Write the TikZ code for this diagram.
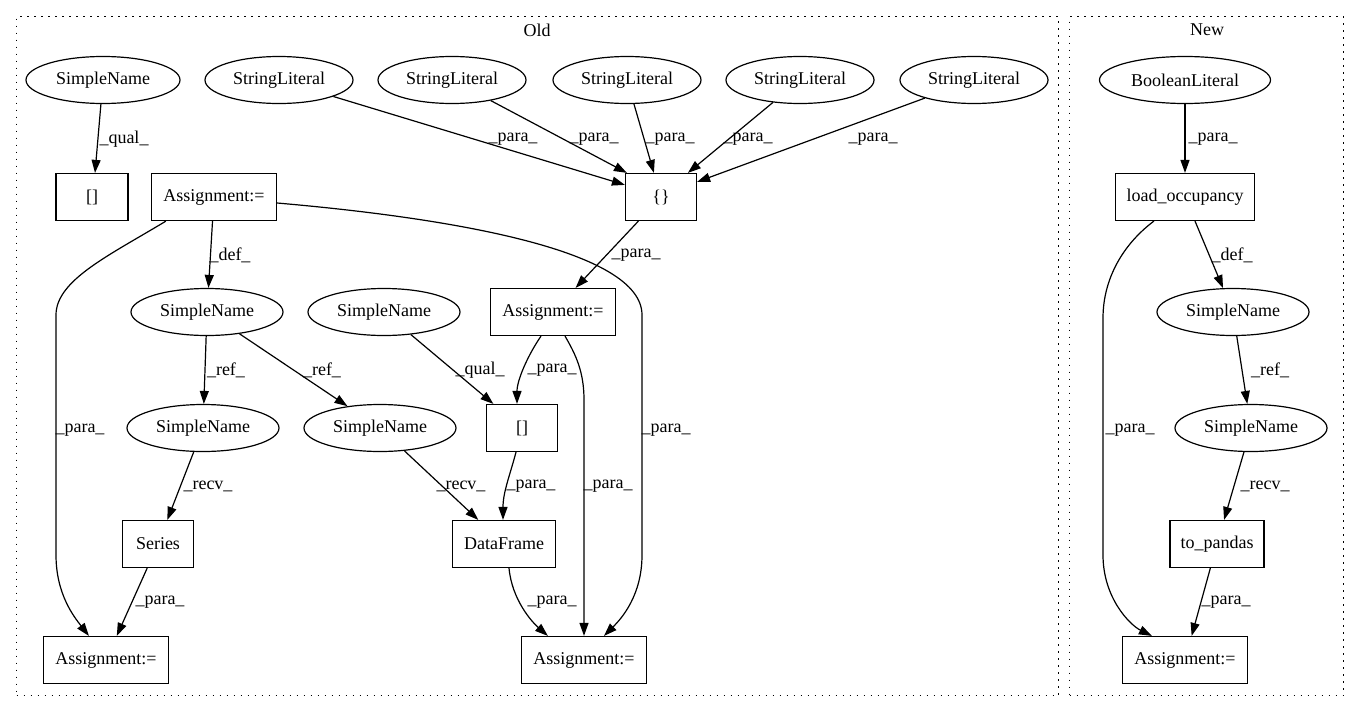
\documentclass[tikz,border=0pt]{standalone}
\usepackage{fontspec}
\setmainfont{Liberation Serif}
\usetikzlibrary{shapes.geometric,arrows.meta,calc}
\begin{document}
\begin{tikzpicture}[x=1pt,y=-1pt,
  every node/.style={font=\fontsize{18}{21}\selectfont},
  ell/.style={ellipse, draw, line width=1.2pt, minimum height=47pt, inner sep=0pt},
  box/.style={rectangle, draw, line width=1.2pt, minimum height=47pt, inner sep=0pt},
  edge/.style={draw, line width=1.2pt, -{Triangle[length=13pt,width=9pt]}},
  lbl/.style={inner sep=0pt},
  cluster/.style={draw, line width=1.2pt, dash pattern=on 1.5pt off 5.5pt, inner sep=0pt, anchor=north west}]
\useasboundingbox[fill=white] (0,0) rectangle (1359,712);
% clusters
\node[cluster, minimum width=1042pt, minimum height=679pt] (cold) at (16,16) {};
\node[cluster, minimum width=274pt, minimum height=679pt] (cnew) at (1069,16) {};
\node[lbl] (told) at (537,30) {Old};
\node[lbl] (tnew) at (1207,30) {New};
% Old nodes
\node[ell, minimum width=154pt] (sn0) at (103,80) {SimpleName};
\node[ell, minimum width=148pt] (sl1) at (279,80) {StringLiteral};
\node[ell, minimum width=148pt] (sl2) at (452,80) {StringLiteral};
\node[ell, minimum width=148pt] (sl3) at (627,80) {StringLiteral};
\node[ell, minimum width=148pt] (sl4) at (800,80) {StringLiteral};
\node[ell, minimum width=148pt] (sl5) at (974,80) {StringLiteral};
\node[box, minimum width=72pt] (bt) at (92,197) {[]};
\node[box, minimum width=125pt] (at) at (214,197) {Assignment:=};
\node[box, minimum width=71pt] (cb) at (661,197) {\{\}};
\node[ell, minimum width=152pt] (snd) at (207,312) {SimpleName};
\node[ell, minimum width=152pt] (snq) at (384,312) {SimpleName};
\node[box, minimum width=125pt] (am) at (553,312) {Assignment:=};
\node[ell, minimum width=152pt] (sr1) at (203,428) {SimpleName};
\node[ell, minimum width=152pt] (sr2) at (380,428) {SimpleName};
\node[box, minimum width=71pt] (bm) at (522,428) {[]};
\node[box, minimum width=71pt] (se) at (158,544) {Series};
\node[box, minimum width=103pt] (df) at (504,544) {DataFrame};
\node[box, minimum width=125pt] (abl) at (106,660) {Assignment:=};
\node[box, minimum width=125pt] (abr) at (584,660) {Assignment:=};
% New nodes
\node[ell, minimum width=171pt] (bl) at (1185,80) {BooleanLiteral};
\node[box, minimum width=139pt] (lo) at (1185,197) {load\_occupancy};
\node[ell, minimum width=152pt] (ns1) at (1233,312) {SimpleName};
\node[ell, minimum width=152pt] (ns2) at (1251,428) {SimpleName};
\node[box, minimum width=94pt] (tp) at (1217,544) {to\_pandas};
\node[box, minimum width=125pt] (an) at (1185,660) {Assignment:=};
% Old edges
\draw[edge] (sn0) -- ($(bt.north)+(3,0)$);
\draw[edge] (sl1) -- ($(cb.north west)+(0,12)$);
\draw[edge] (sl2) -- ($(cb.north west)+(2,0)$);
\draw[edge] (sl3) -- ($(cb.north west)+(29,0)$);
\draw[edge] (sl4) -- ($(cb.north west)+(63,0)$);
\draw[edge] (sl5) -- ($(cb.north east)+(0,9)$);
\draw[edge] (cb) -- (am);
\draw[edge] (at) -- (snd);
\draw[edge] ($(at.south west)+(15,0)$) .. controls (110,255) and (56,280) .. (56,315) -- (56,555) .. controls (56,595) and (75,618) .. ($(abl.north west)+(46,0)$);
\draw[edge] ($(at.east)+(0,6)$) .. controls (450,218) and (642,250) .. (642,315) -- (642,555) .. controls (642,595) and (622,618) .. ($(abr.north)+(20,0)$);
\draw[edge] (snd) -- (sr1);
\draw[edge] (snd) -- (sr2);
\draw[edge] (snq) -- (bm);
\draw[edge] ($(am.south)+(-12,0)$) .. controls (528,355) and (517,380) .. ($(bm.north)+(-5,0)$);
\draw[edge] ($(am.south)+(12,0)$) .. controls (576,355) and (584,372) .. (584,400) -- (abr.north);
\draw[edge] (sr1) -- (se);
\draw[edge] (sr2) -- (df);
\draw[edge] ($(bm.south)+(-6,0)$) .. controls (510,475) and (503,492) .. ($(df.north)+(-1,0)$);
\draw[edge] (se) -- (abl);
\draw[edge] ($(df.south)+(5,0)$) .. controls (512,600) and (532,622) .. ($(abr.north west)+(27,0)$);
% New edges
\draw[edge] (bl) -- (lo);
\draw[edge] ($(lo.south)+(10,0)$) -- (ns1);
\draw[edge] ($(lo.south west)+(39,0)$) .. controls (1122,245) and (1103,280) .. (1103,318) -- (1103,555) .. controls (1103,598) and (1130,625) .. ($(an.north west)+(30,0)$);
\draw[edge] (ns1) -- (ns2);
\draw[edge] (ns2) -- (tp);
\draw[edge] (tp) -- (an);
% labels
\node[lbl] (l1) at (124,139) {\_qual\_};
\node[lbl] (l2) at (513,139) {\_para\_};
\node[lbl] (l3) at (594,139) {\_para\_};
\node[lbl] (l4) at (670,139) {\_para\_};
\node[lbl] (l5) at (748,139) {\_para\_};
\node[lbl] (l6) at (873,139) {\_para\_};
\node[lbl] (l7) at (636,255) {\_para\_};
\node[lbl] (l8) at (230,255) {\_def\_};
\node[lbl] (l9) at (80,430) {\_para\_};
\node[lbl] (l10) at (666,430) {\_para\_};
\node[lbl] (l11) at (226,370) {\_ref\_};
\node[lbl] (l12) at (322,370) {\_ref\_};
\node[lbl] (l13) at (480,370) {\_qual\_};
\node[lbl] (l14) at (552,370) {\_para\_};
\node[lbl] (l15) at (208,486) {\_recv\_};
\node[lbl] (l16) at (461,486) {\_recv\_};
\node[lbl] (l17) at (531,486) {\_para\_};
\node[lbl] (l18) at (608,486) {\_para\_};
\node[lbl] (l19) at (160,602) {\_para\_};
\node[lbl] (l20) at (552,602) {\_para\_};
\node[lbl] (l21) at (1213,139) {\_para\_};
\node[lbl] (l22) at (1232,255) {\_def\_};
\node[lbl] (l23) at (1130,430) {\_para\_};
\node[lbl] (l24) at (1270,370) {\_ref\_};
\node[lbl] (l25) at (1265,486) {\_recv\_};
\node[lbl] (l26) at (1226,602) {\_para\_};
\end{tikzpicture}
\end{document}
